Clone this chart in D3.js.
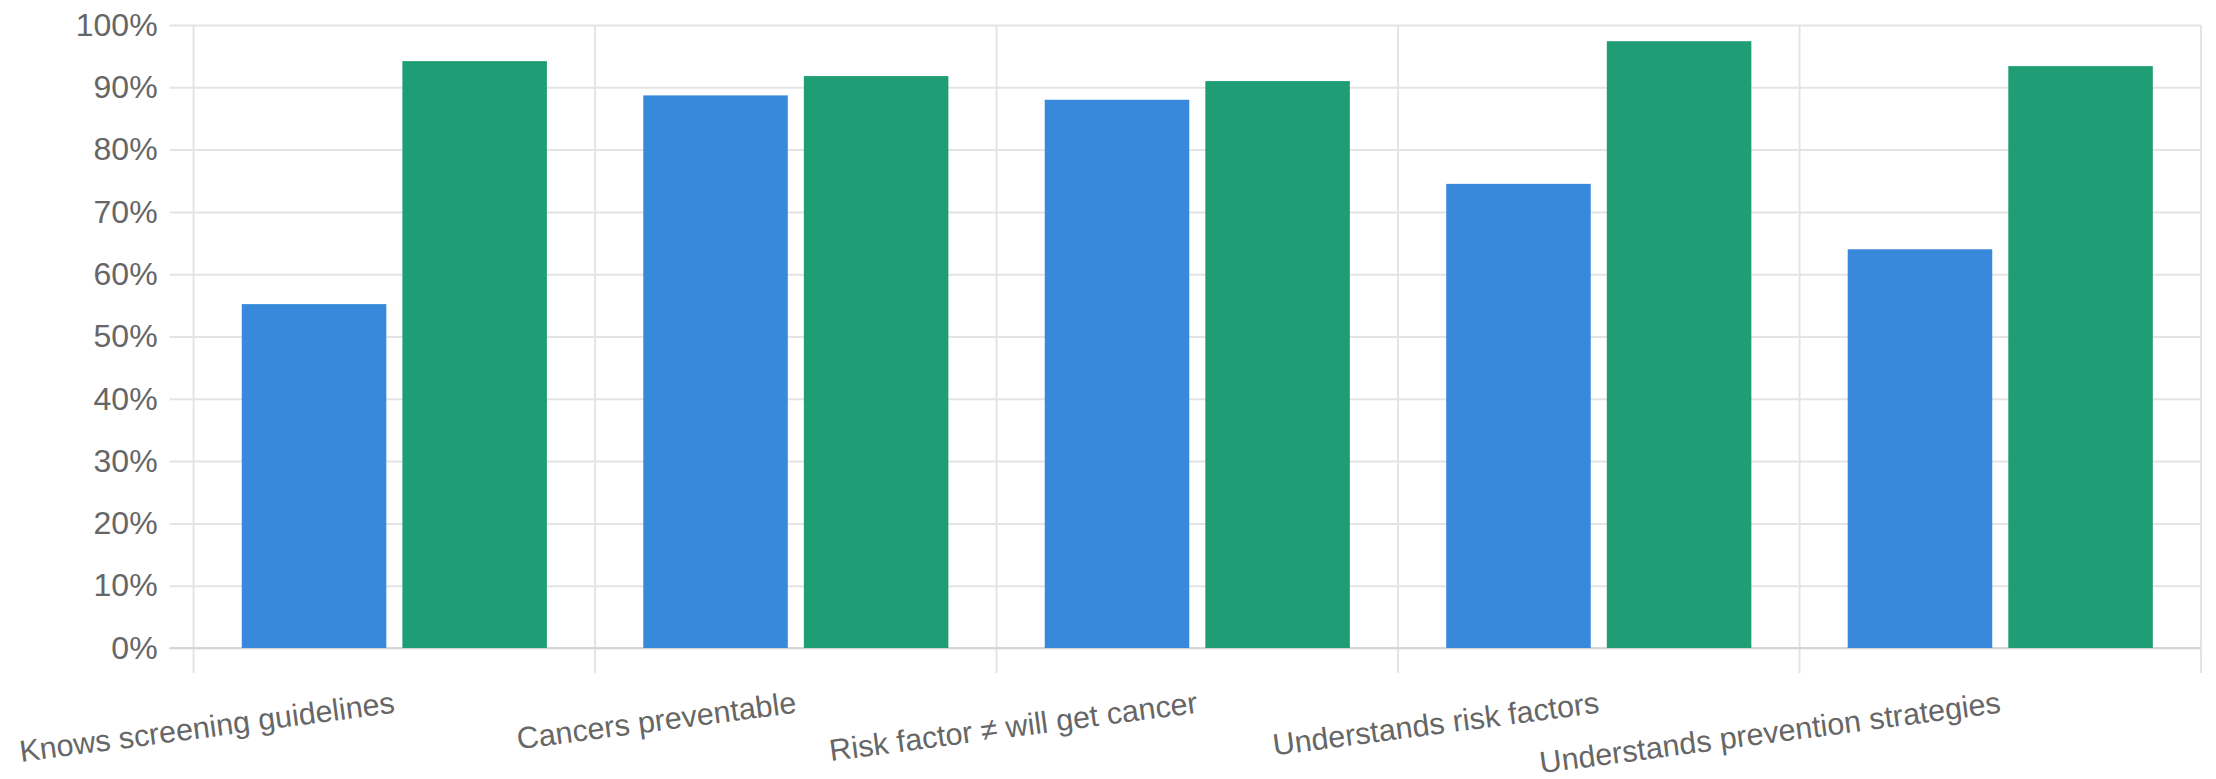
<!DOCTYPE html>
<html>
<head>
<meta charset="utf-8">
<script src="https://cdn.jsdelivr.net/npm/d3@7/dist/d3.min.js"></script>
<style>
  html, body { margin: 0; padding: 0; background: #ffffff; }
  svg { display: block; }
  text { font-family: "Liberation Sans", Arial, Helvetica, sans-serif; fill: #666666; }
</style>
</head>
<body>
<svg id="chart" width="2216" height="779"></svg>
<script>
// Share of respondents per knowledge item, two groups
const categories = [
  "Knows screening guidelines",
  "Cancers preventable",
  "Risk factor \u2260 will get cancer",
  "Understands risk factors",
  "Understands prevention strategies"
];
const seriesNames = ["Group A", "Group B"];
const seriesA = [55.2, 88.7, 88.0, 74.5, 64.0];
const seriesB = [94.2, 91.8, 91.0, 97.4, 93.4];
const seriesColors = ["#3889dc", "#1f9e75"];
const yTicks = [0, 10, 20, 30, 40, 50, 60, 70, 80, 90, 100];

const W = 2216, H = 779;
const margin = { top: 25, right: 15, bottom: 131, left: 193.6 };
const innerW = W - margin.left - margin.right;
const innerH = H - margin.top - margin.bottom;
const yFontSize = 32;
const xFontSize = 30.5;
const labelAngle = -7.5;
const tickLen = 24;
const gridColor = "#e4e4e4";

const svg = d3.select("#chart");
const g = svg.append("g").attr("transform", `translate(${margin.left},${margin.top})`);

const x0 = d3.scaleBand().domain(categories).range([0, innerW]).padding(0);
const x1 = d3.scaleBand().domain(seriesNames)
  .range([x0.bandwidth() * 0.1, x0.bandwidth() * 0.9])
  .paddingInner(0.1).paddingOuter(0.05);
const y = d3.scaleLinear().domain([0, 100]).range([innerH, 0]);

// Horizontal grid lines with tick stubs on the left
const yAxis = d3.axisLeft(y)
  .tickValues(yTicks)
  .tickSize(-(innerW + tickLen))
  .tickPadding(12)
  .tickFormat(d => d + "%");
const yG = g.append("g")
  .attr("transform", `translate(${-tickLen},0)`)
  .call(yAxis);
yG.select(".domain").remove();
yG.selectAll(".tick line")
  .attr("x1", 0)
  .attr("x2", innerW + tickLen)
  .attr("stroke", gridColor)
  .attr("stroke-width", 2);
yG.selectAll(".tick text")
  .attr("x", -12)
  .attr("font-size", yFontSize)
  .style("fill", "#666666");

// Vertical grid lines at category boundaries, extending below the axis
const bounds = categories.map(c => x0(c)).concat([innerW]);
g.append("g").selectAll("line")
  .data(bounds)
  .join("line")
  .attr("x1", d => d).attr("x2", d => d)
  .attr("y1", 0).attr("y2", innerH + tickLen + 1)
  .attr("stroke", gridColor)
  .attr("stroke-width", 2);

// Baseline
g.append("line")
  .attr("x1", -tickLen).attr("x2", innerW)
  .attr("y1", y(0)).attr("y2", y(0))
  .attr("stroke", "#d6d6d6")
  .attr("stroke-width", 2);

// Bars
const rows = categories.map((c, i) => ({ cat: c, vals: [seriesA[i], seriesB[i]] }));
const groups = g.append("g").selectAll("g")
  .data(rows)
  .join("g")
  .attr("transform", d => `translate(${x0(d.cat)},0)`);
groups.selectAll("rect")
  .data(d => d.vals.map((v, k) => ({ name: seriesNames[k], v, k })))
  .join("rect")
  .attr("x", d => x1(d.name))
  .attr("width", x1.bandwidth())
  .attr("y", d => y(d.v))
  .attr("height", d => y(0) - y(d.v))
  .attr("fill", d => seriesColors[d.k]);

// Rotated category labels, right end anchored at the category centre
const labelY = innerH + tickLen + 30;
g.append("g").selectAll("text")
  .data(categories)
  .join("text")
  .attr("transform", d => `translate(${x0(d) + x0.bandwidth() / 2},${labelY}) rotate(${labelAngle})`)
  .attr("text-anchor", "end")
  .attr("dy", "0.35em")
  .attr("font-size", xFontSize)
  .text(d => d);
</script>
</body>
</html>
